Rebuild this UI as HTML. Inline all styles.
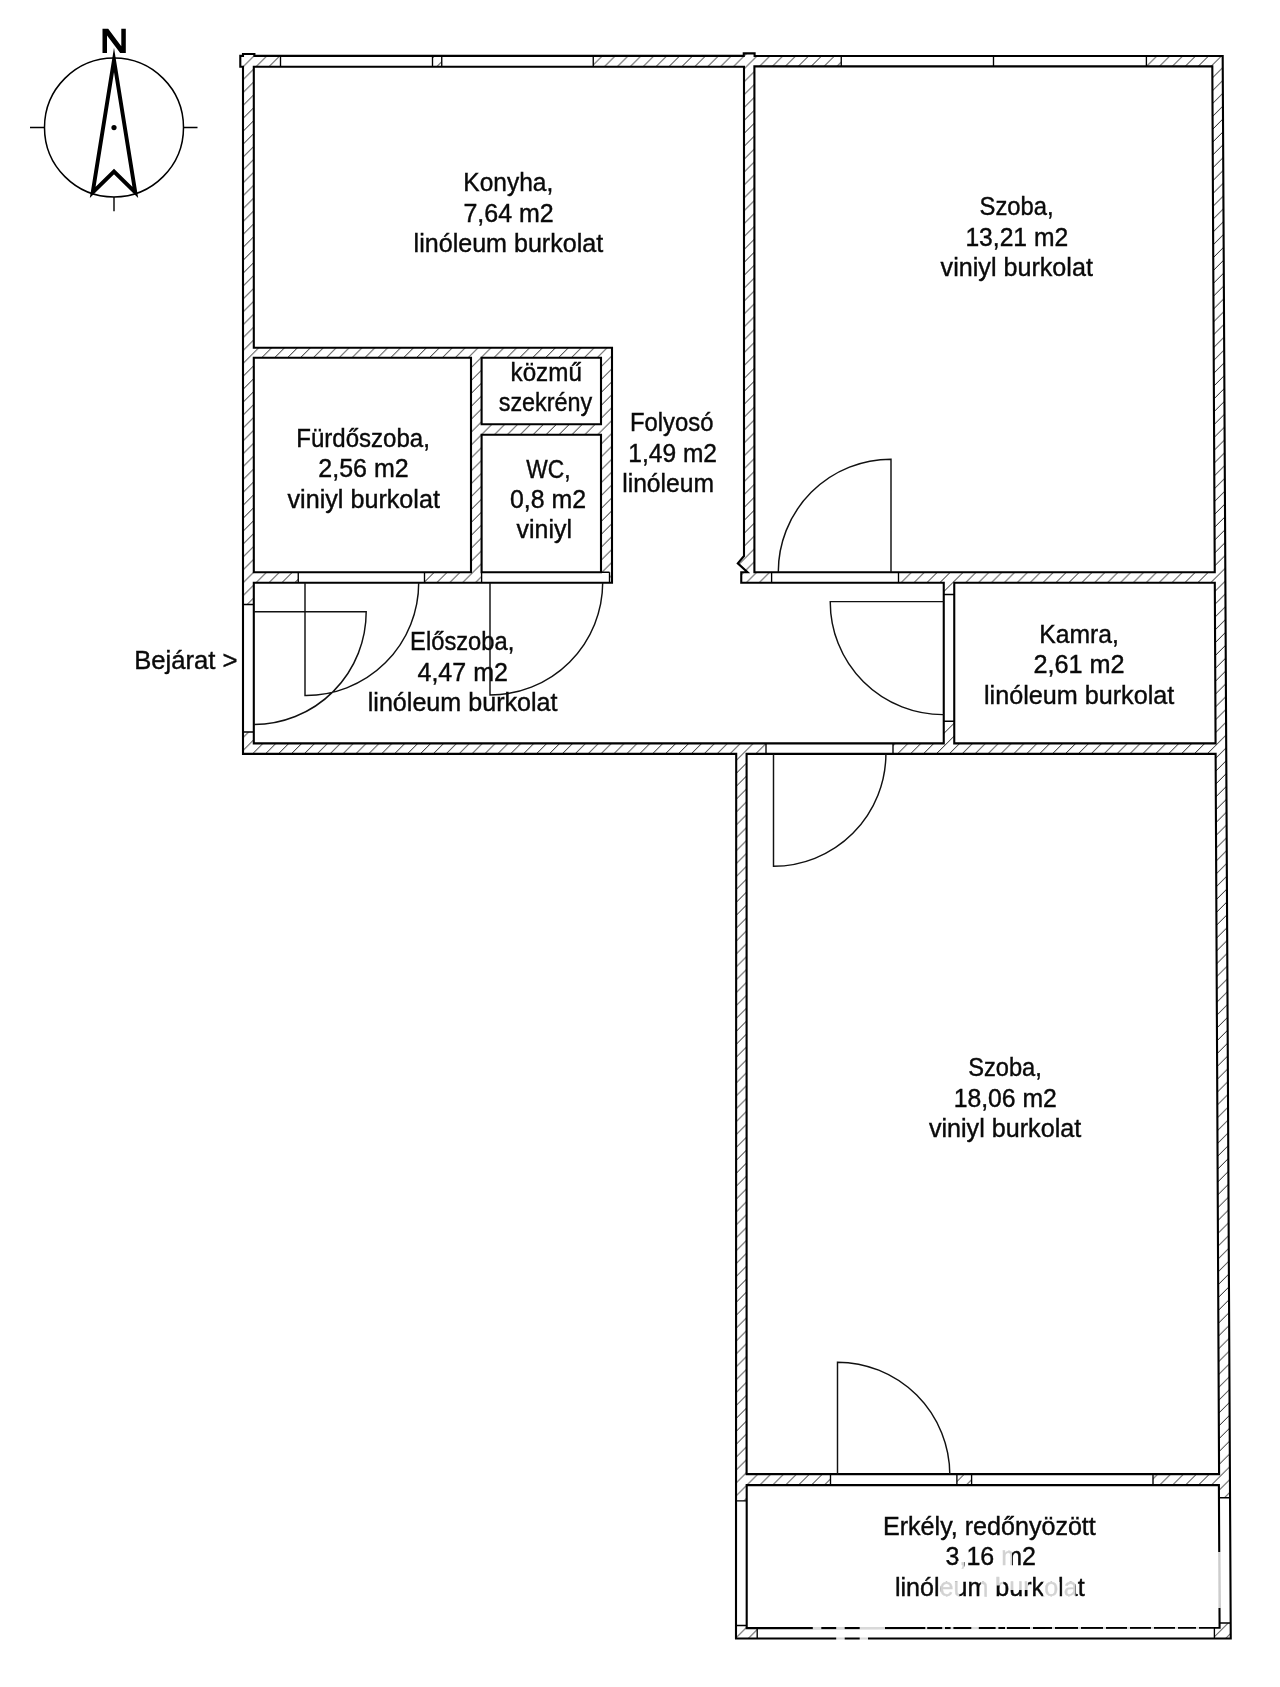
<!DOCTYPE html>
<html><head><meta charset="utf-8"><title>Alaprajz</title>
<style>
html,body{margin:0;padding:0;background:#fff;}
body{width:1280px;height:1687px;overflow:hidden;font-family:"Liberation Sans",sans-serif;}
svg{display:block;}
text{font-family:"Liberation Sans",sans-serif;font-size:25px;fill:#0a0a0a;stroke:#0a0a0a;stroke-width:0.4px;}
svg{filter:grayscale(1);}
</style></head><body>
<svg width="1280" height="1687" viewBox="0 0 1280 1687">
<defs>
<pattern id="hatch" patternUnits="userSpaceOnUse" x="0.3" y="0" width="12.9" height="12.9">
<path d="M-1,1 L1,-1 M0,12.9 L12.9,0 M11.9,13.9 L13.9,11.9" stroke="#111" stroke-width="0.95" fill="none"/>
</pattern>
</defs>
<rect width="1280" height="1687" fill="#fff"/>
<!-- compass -->
<g fill="none" stroke="#000">
<circle cx="114" cy="127.5" r="69.5" stroke-width="1.5"/>
<path d="M30,127.5H44.5M183.5,127.5H197.5M114,197V211.3" stroke-width="1.4"/>
<path d="M114,60 L135.3,192.5 L114,171.5 L92.7,192.5 Z" stroke-width="3.9" stroke-linejoin="miter" stroke-miterlimit="10"/>
<circle cx="114" cy="127.6" r="2.6" fill="#000" stroke="none"/>
<path d="M102.5,53 V28.8 H108.2 L121.3,46.3 V28.8 H125.8 V53 H120.2 L107,35.6 V53 Z" fill="#000" stroke="none"/>
</g>
<!-- walls -->
<path d="M240.30,55.85 L243.00,55.85 L243.00,54.00 L254.40,54.00 L254.40,55.85 L743.75,55.85 L743.75,53.40 L754.60,53.40 L754.60,55.95 L1222.69,56.00 L1230.76,1638.50 L736.00,1638.50 L736.20,753.90 L243.00,753.90 L243.00,66.70 L240.30,66.70 Z M280.50,55.85 L432.50,55.85 L432.50,66.70 L280.50,66.70 Z M441.75,55.85 L593.25,55.85 L593.25,66.70 L441.75,66.70 Z M841.25,55.85 L1146.40,55.85 L1146.40,66.50 L841.25,66.50 Z M243.00,604.50 L253.80,604.50 L253.80,732.00 L243.00,732.00 Z M298.25,572.20 L424.50,572.20 L424.50,582.80 L298.25,582.80 Z M481.60,572.20 L609.50,572.20 L609.50,582.80 L481.60,582.80 Z M771.60,572.20 L898.50,572.20 L898.50,582.80 L771.60,582.80 Z M943.75,594.50 L954.25,594.50 L954.25,721.25 L943.75,721.25 Z M766.00,743.40 L893.00,743.40 L893.00,753.90 L766.00,753.90 Z M830.50,1474.15 L956.90,1474.15 L956.90,1485.10 L830.50,1485.10 Z M971.60,1474.15 L1153.00,1474.15 L1153.00,1485.10 L971.60,1485.10 Z M736.10,1500.80 L746.70,1500.80 L746.70,1625.50 L736.10,1625.50 Z M757.20,1628.10 L1214.40,1628.10 L1214.40,1638.50 L757.20,1638.50 Z M1218.96,1497.70 L1230.04,1497.70 L1230.68,1623.00 L1219.58,1623.00 Z" fill="url(#hatch)" fill-rule="evenodd" stroke="none"/>
<path d="M240.30,55.85 L243.00,55.85 L243.00,54.00 L254.40,54.00 L254.40,55.85 L743.75,55.85 L743.75,53.40 L754.60,53.40 L754.60,55.95 L1222.69,56.00 L1230.76,1638.50 L736.00,1638.50 L736.20,753.90 L243.00,753.90 L243.00,66.70 L240.30,66.70 Z" fill="none" stroke="#000" stroke-width="2.1" stroke-linejoin="miter"/>
<g fill="#fff" stroke="#000" stroke-width="2.1" stroke-linejoin="miter">
<path d="M253.80,66.70 L744.00,66.70 L744.00,556.00 L737.80,563.40 L747.50,572.20 L741.25,572.20 L741.25,582.80 L943.75,582.80 L943.75,743.40 L253.80,743.40 L253.80,582.80 L612.00,582.80 L612.00,347.80 L253.80,347.80 Z"/>
<path d="M754.40,66.40 L1212.32,66.40 L1214.75,572.20 L754.40,572.20 Z"/>
<path d="M253.80,357.80 L471.00,357.80 L471.00,572.20 L253.80,572.20 Z"/>
<path d="M481.60,357.80 L601.00,357.80 L601.00,424.30 L481.60,424.30 Z"/>
<path d="M481.60,434.80 L601.00,434.80 L601.00,572.20 L481.60,572.20 Z"/>
<path d="M954.25,582.80 L1214.80,582.80 L1215.57,743.40 L954.25,743.40 Z"/>
<path d="M746.60,753.90 L1215.62,753.90 L1219.08,1474.15 L746.60,1474.15 Z"/>
<path d="M746.70,1485.10 L1218.90,1485.10 L1219.60,1627.80 L746.70,1628.10 Z"/>
</g>
<path d="M280.50,55.85V66.70M432.50,55.85V66.70 M441.75,55.85V66.70M593.25,55.85V66.70 M841.25,55.85V66.50M1146.40,55.85V66.50 M243.00,604.50H253.80M243.00,732.00H253.80 M298.25,572.20V582.80M424.50,572.20V582.80 M481.60,572.20V582.80M609.50,572.20V582.80 M771.60,572.20V582.80M898.50,572.20V582.80 M943.75,594.50H954.25M943.75,721.25H954.25 M766.00,743.40V753.90M893.00,743.40V753.90 M830.50,1474.15V1485.10M956.90,1474.15V1485.10 M971.60,1474.15V1485.10M1153.00,1474.15V1485.10 M736.10,1500.80H746.70M736.10,1625.50H746.70 M757.20,1628.10V1638.50M1214.40,1628.10V1638.50 M1218.96,1497.7L1230.04,1497.7M1219.58,1623.0L1230.68,1623.0 M601.00,572.20H609.5 M993.5,55.85V66.7" fill="none" stroke="#000" stroke-width="1.35"/>
<path d="M253.80,611.65L366.20,611.65A112.7,112.7 0 0 1 253.80,724.55 M305.00,582.80L305.00,695.50A112.7,112.7 0 0 0 418.70,582.80 M490.00,582.80L490.00,695.00A112.7,112.7 0 0 0 602.70,582.80 M891.00,572.20L891.00,459.20A112.7,112.7 0 0 0 778.30,572.20 M943.75,601.60L830.25,601.60A112.7,112.7 0 0 0 943.75,714.60 M773.50,753.90L773.50,866.30A112.7,112.7 0 0 0 885.90,753.90 M837.50,1474.15L837.50,1362.15A112.7,112.7 0 0 1 949.80,1474.15" fill="none" stroke="#111" stroke-width="1.45"/>
<!-- labels -->
<g>
<text transform="translate(463.34,191.30) scale(0.9807,1)">Konyha,</text>
<text transform="translate(463.40,221.60) scale(0.9997,1)">7,64 m2</text>
<text transform="translate(413.60,252.00) scale(1.0035,1)">linóleum burkolat</text>
<text transform="translate(979.55,215.20) scale(0.9521,1)">Szoba,</text>
<text transform="translate(965.41,245.70) scale(0.9860,1)">13,21 m2</text>
<text transform="translate(940.60,275.90) scale(1.0059,1)">viniyl burkolat</text>
<text transform="translate(296.28,446.60) scale(0.9621,1)">Fürdőszoba,</text>
<text transform="translate(318.30,477.00) scale(1.0008,1)">2,56 m2</text>
<text transform="translate(287.50,507.60) scale(1.0066,1)">viniyl burkolat</text>
<text transform="translate(510.53,380.50) scale(0.9689,1)">közmű</text>
<text transform="translate(498.70,410.90) scale(0.9350,1)">szekrény</text>
<text transform="translate(526.30,477.60) scale(0.9110,1)">WC,</text>
<text transform="translate(510.00,508.00) scale(0.9957,1)">0,8 m2</text>
<text transform="translate(516.60,537.90) scale(0.9961,1)">viniyl</text>
<text transform="translate(629.99,431.20) scale(0.9535,1)">Folyosó</text>
<text transform="translate(628.32,461.70) scale(0.9827,1)">1,49 m2</text>
<text transform="translate(622.21,492.20) scale(0.9860,1)">linóleum</text>
<text transform="translate(134.15,668.60) scale(1.0249,1)">Bejárat ></text>
<text transform="translate(410.10,650.00) scale(0.9495,1)">Előszoba,</text>
<text transform="translate(417.50,680.50) scale(1.0008,1)">4,47 m2</text>
<text transform="translate(367.75,710.70) scale(1.0048,1)">linóleum burkolat</text>
<text transform="translate(1039.27,642.50) scale(0.9885,1)">Kamra,</text>
<text transform="translate(1033.49,673.25) scale(1.0093,1)">2,61 m2</text>
<text transform="translate(983.99,703.75) scale(1.0077,1)">linóleum burkolat</text>
<text transform="translate(968.15,1076.10) scale(0.9468,1)">Szoba,</text>
<text transform="translate(953.71,1106.50) scale(0.9899,1)">18,06 m2</text>
<text transform="translate(928.90,1136.80) scale(1.0059,1)">viniyl burkolat</text>
<text transform="translate(882.99,1535.00) scale(1.0039,1)">Erkély, redőnyözött</text>
<text transform="translate(945.60,1565.25) scale(0.9997,1)">3,16 m2</text>
<text transform="translate(894.90,1595.60) scale(1.0040,1)">linóleum burkolat</text>
</g>
<!-- faint watermark overlay -->
<g fill="#fff" opacity="0.82" stroke="none">
<rect x="957.5" y="1561" width="6.5" height="9"/>
<rect x="1001" y="1550.5" width="11" height="15.5"/>
<rect x="940.3" y="1582" width="19" height="14.5"/>
<rect x="980.8" y="1582" width="6.4" height="14.5"/>
<rect x="996.3" y="1574" width="7" height="11.5"/>
<rect x="1009.5" y="1581.5" width="18.5" height="8.5"/>
<rect x="1043.2" y="1582" width="16.5" height="14.5"/>
<rect x="1063" y="1582" width="12.5" height="14.5"/>
</g>
<path d="M812.8,1627.9H821.3M836.2,1627.9H844.7M859.7,1627.9H885M925.3,1627.9H927.2M942.2,1627.9H945M950.6,1627.9H953.4M971.3,1627.9H978.8M995.6,1627.9H998.4M1005,1627.9H1006.9M1030,1627.9H1033M1052,1627.9H1055M1078,1627.9H1081M1103,1627.9H1106M1127,1627.9H1130M1151,1627.9H1154M1175,1627.9H1178M1196,1627.9H1199M836.2,1638.4H844.7M859.7,1638.4H868" stroke="#fff" stroke-width="3.2" opacity="0.85" fill="none"/>
<path d="M1219.3,1552V1608" stroke="#fff" stroke-width="3" opacity="0.8" fill="none"/>
</svg>
</body></html>
